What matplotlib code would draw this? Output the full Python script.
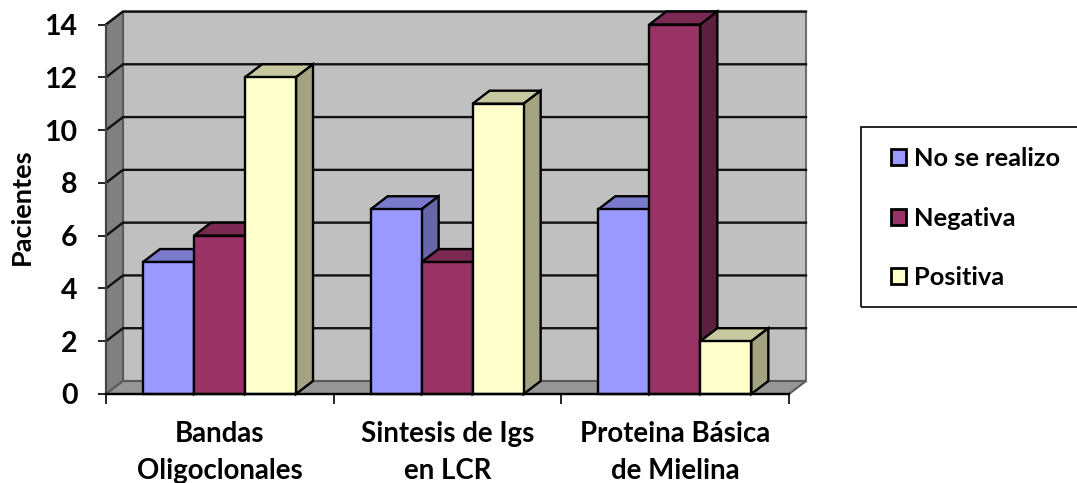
import matplotlib
matplotlib.use('Agg')
import matplotlib.pyplot as plt
from matplotlib.patches import Patch, Rectangle

categorias = ['Bandas\nOligoclonales', 'Sintesis de Igs\nen LCR', 'Proteina Básica\nde Mielina']
no_se_realizo = [5, 7, 7]
negativa = [6, 5, 14]
positiva = [12, 11, 2]

plt.rcParams['font.family'] = ['Lato', 'DejaVu Sans']
plt.rcParams['font.weight'] = 'bold'

W, H = 1077, 483
fig = plt.figure(figsize=(W / 100, H / 100), dpi=100)
ax = fig.add_axes([106 / W, 1 - 394 / H, 683 / W, 369.5 / H])
ax.set_xlim(0, 3)
ax.set_ylim(0, 14)

# 3D look: depth of the box in data units
dx = 17 / (683 / 3)
dy = 13 / (369.5 / 14)
bar_w = 51 / (683 / 3)
offset = 37 / (683 / 3)


def face(xs, ys, color, edge='black', lw=1.7, z=3):
    ax.fill(xs, ys, facecolor=color, edgecolor=edge, linewidth=lw,
            clip_on=False, zorder=z, joinstyle='miter')


# walls and floor
face([dx, 3 + dx, 3 + dx, dx], [dy, dy, 14 + dy, 14 + dy], '#c0c0c0', '#6e6e6e', 1.5, 1)
face([0, dx, dx, 0], [0, dy, 14 + dy, 14], '#808080', '#5a5a5a', 1.5, 1)
face([0, 3, 3 + dx, dx], [0, 0, dy, dy], '#969696', '#5a5a5a', 1.5, 1)

# gridlines run across the back wall and down the side wall
for v in range(2, 15, 2):
    ax.plot([0, dx, 3 + dx], [v, v + dy, v + dy], color='#111111', lw=1.7,
            clip_on=False, zorder=2)

series = [
    (no_se_realizo, '#9999ff', '#7a7acc', '#6666a8'),
    (negativa, '#993366', '#7a2952', '#5c1f3d'),
    (positiva, '#ffffcc', '#c8c8a0', '#a3a382'),
]

z = 3
for i in range(len(categorias)):
    for j, (vals, front, top, side) in enumerate(series):
        x0 = i + offset + j * bar_w
        x1 = x0 + bar_w
        v = vals[i]
        face([x0, x1, x1 + dx, x0 + dx], [v, v, v + dy, v + dy], top, z=z)
        face([x1, x1 + dx, x1 + dx, x1], [0, dy, v + dy, v], side, z=z)
        face([x0, x1, x1, x0], [0, 0, v, v], front, z=z)
        z += 1

for s in ['top', 'right']:
    ax.spines[s].set_visible(False)
ax.spines['bottom'].set_linewidth(1.7)
ax.spines['bottom'].set_zorder(50)
ax.spines['left'].set_color('#444444')
ax.spines['left'].set_linewidth(1.5)
ax.patch.set_visible(False)

ax.set_yticks(range(0, 15, 2))
ax.tick_params(axis='y', labelsize=20.5, length=6, width=1.2, pad=14.5)
ax.set_xticks([0, 1, 2, 3])
ax.set_xticklabels([])
ax.tick_params(axis='x', which='major', length=7, width=1.2)
ax.set_xticks([0.5, 1.5, 2.5], minor=True)
ax.set_xticklabels(categorias, minor=True, fontsize=19.9, linespacing=1.52)
ax.tick_params(axis='x', which='minor', length=0, pad=19.5)

fig.text(22 / W, 1 - 207 / H, 'Pacientes', rotation=90, ha='center', va='center', fontsize=19.5)

# legend frame runs past the right edge of the figure
fig.add_artist(Rectangle((861 / W, 1 - 307 / H), 240 / W, 180 / H, fill=False,
                         edgecolor='black', linewidth=1.2, transform=fig.transFigure))

handles = [Patch(facecolor=s[1], edgecolor='black', linewidth=2) for s in series]
ax.legend(handles, ['No se realizo', 'Negativa', 'Positiva'],
          loc='upper left', bbox_to_anchor=(891 / W, 1 - 147 / H),
          bbox_transform=fig.transFigure, borderaxespad=0, fontsize=18.3,
          frameon=False, handlelength=0.58, handleheight=0.58, handletextpad=0.33,
          labelspacing=1.44, borderpad=0)

fig.savefig('out.png', dpi=100)
